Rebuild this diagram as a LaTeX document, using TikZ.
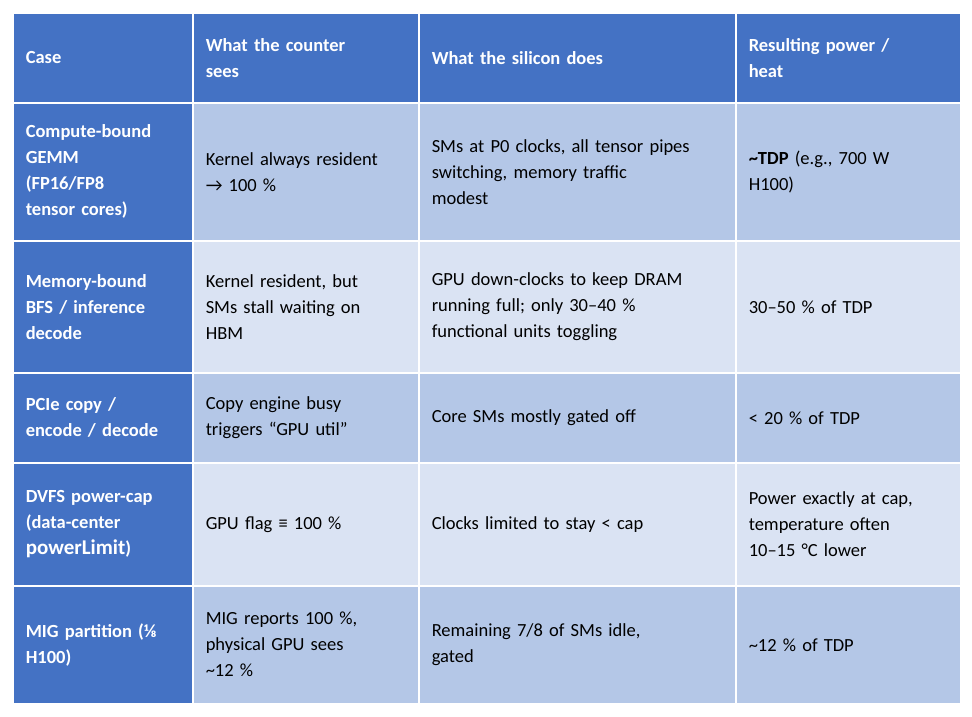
\documentclass[tikz,border=0pt]{standalone}
\usepackage{fontspec}
\setmainfont{Carlito}
\usetikzlibrary{positioning}
\definecolor{headblue}{HTML}{4472C4}
\definecolor{banddark}{HTML}{B4C7E7}
\definecolor{bandlight}{HTML}{DAE3F3}

\begin{document}
\begin{tikzpicture}[x=1pt, y=-1pt,
    cell/.style={draw=white, line width=1.5pt, anchor=north west, inner xsep=13pt, inner ysep=0pt,
      align=left, font=\fontsize{18.5}{26}\selectfont},
    head/.style={cell, fill=headblue, text=white, font=\fontsize{18.5}{26}\selectfont\bfseries},
    dark/.style={cell, fill=banddark},
    light/.style={cell, fill=bandlight}]
  \useasboundingbox (0,0) rectangle (972,716);

  % header row
  \node[head, minimum width=180, minimum height=90, text width=154] (hcase) at (12,12) {Case};
  \node[head, minimum width=226, minimum height=90, text width=200] (hcount) at (192,12) {What the counter\\sees};
  \node[head, minimum width=317, minimum height=90, text width=291] (hsil) at (418,12) {What the silicon does};
  \node[head, minimum width=225, minimum height=90, text width=199] (hpow) at (735,12) {Resulting power /\\heat};

  % compute-bound
  \node[head, minimum width=180, minimum height=138, text width=154] (case1) at (12,102) {Compute-bound\\GEMM\\(FP16/FP8\\tensor cores)};
  \node[dark, minimum width=226, minimum height=138, text width=200] (count1) at (192,102) {Kernel always resident\\→ 100 \%};
  \node[dark, minimum width=317, minimum height=138, text width=291] (sil1) at (418,102) {SMs at P0 clocks, all tensor pipes\\switching, memory traffic\\modest};
  \node[dark, minimum width=225, minimum height=138, text width=199] (pow1) at (735,102) {\textbf{\textasciitilde TDP} (e.g., 700 W\\H100)};

  % memory-bound
  \node[head, minimum width=180, minimum height=132, text width=154] (case2) at (12,240) {Memory-bound\\BFS / inference\\decode};
  \node[light, minimum width=226, minimum height=132, text width=200] (count2) at (192,240) {Kernel resident, but\\SMs stall waiting on\\HBM};
  \node[light, minimum width=317, minimum height=132, text width=291] (sil2) at (418,240) {GPU down-clocks to keep DRAM\\running full; only 30–40 \%\\functional units toggling};
  \node[light, minimum width=225, minimum height=132, text width=199] (pow2) at (735,240) {30–50 \% of TDP};

  % PCIe copy
  \node[head, minimum width=180, minimum height=90, text width=154] (case3) at (12,372) {PCIe copy /\\encode / decode};
  \node[dark, minimum width=226, minimum height=90, text width=200] (count3) at (192,372) {Copy engine busy\\triggers “GPU util”};
  \node[dark, minimum width=317, minimum height=90, text width=291] (sil3) at (418,372) {Core SMs mostly gated off};
  \node[dark, minimum width=225, minimum height=90, text width=199] (pow3) at (735,372) {< 20 \% of TDP};

  % DVFS power-cap
  \node[head, minimum width=180, minimum height=123, text width=154] (case4) at (12,462) {DVFS power-cap\\(data-center\\{\fontsize{21}{26}\selectfont powerLimit})};
  \node[light, minimum width=226, minimum height=123, text width=200] (count4) at (192,462) {GPU flag ≡ 100 \%};
  \node[light, minimum width=317, minimum height=123, text width=291] (sil4) at (418,462) {Clocks limited to stay < cap};
  \node[light, minimum width=225, minimum height=123, text width=199] (pow4) at (735,462) {Power exactly at cap,\\temperature often\\10–15 °C lower};

  % MIG partition
  \node[head, minimum width=180, minimum height=118, text width=154] (case5) at (12,585) {MIG partition (⅛\\H100)};
  \node[dark, minimum width=226, minimum height=118, text width=200] (count5) at (192,585) {MIG reports 100 \%,\\physical GPU sees\\\textasciitilde 12 \%};
  \node[dark, minimum width=317, minimum height=118, text width=291] (sil5) at (418,585) {Remaining 7/8 of SMs idle,\\gated};
  \node[dark, minimum width=225, minimum height=118, text width=199] (pow5) at (735,585) {\textasciitilde 12 \% of TDP};
\end{tikzpicture}
\end{document}
